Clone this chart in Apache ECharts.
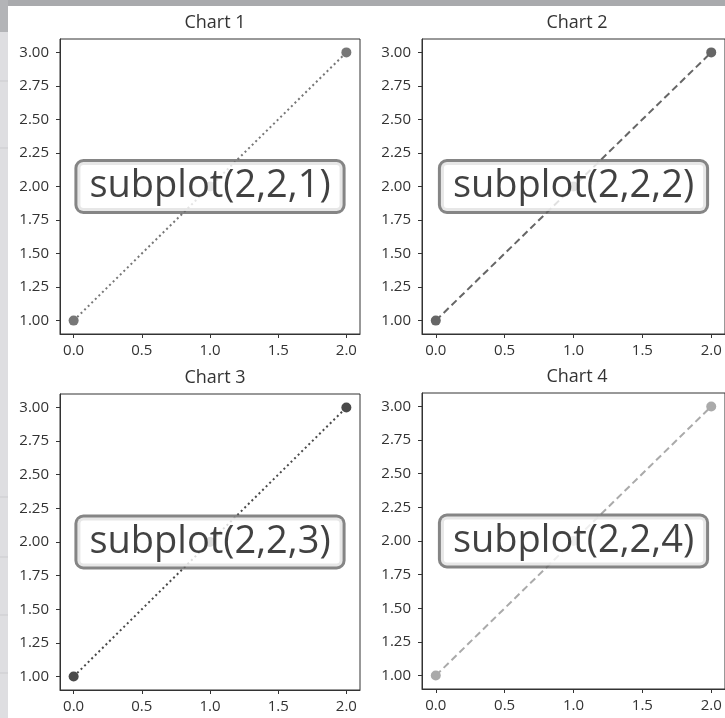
<!DOCTYPE html>
<html>
<head>
<meta charset="utf-8">
<script src="https://cdn.jsdelivr.net/npm/echarts@6/dist/echarts.min.js"></script>
<style>
html,body{margin:0;padding:0;background:#fff;}
#main{width:725px;height:718px;}
</style>
</head>
<body>
<div id="main"></div>
<script>
// ---- data ----
const chartTitles = ['Chart 1', 'Chart 2', 'Chart 3', 'Chart 4'];
const xValues = [0, 1, 2];
const chart1Y = [1, 2, 3];
const chart2Y = [1, 2, 3];
const chart3Y = [1, 2, 3];
const chart4Y = [1, 2, 3];
const xTicks = [0, 0.5, 1, 1.5, 2];
const yTicks = [1, 1.25, 1.5, 1.75, 2, 2.25, 2.5, 2.75, 3];
const labelTexts = ['subplot(2,2,1)', 'subplot(2,2,2)', 'subplot(2,2,3)', 'subplot(2,2,4)'];
const labelX = 1;
const labelY = 2;

// ---- styles ----
const seriesY = [chart1Y, chart2Y, chart3Y, chart4Y];
const lineTypes = [[2, 3], [7, 4], [2, 3], [7, 4]];
const lineColors = ['#777777', '#666666', '#4a4a4a', '#aaaaaa'];
const grids = [
  {left: 60, top: 39, width: 300, height: 295},
  {left: 422, top: 39, width: 303, height: 295},
  {left: 60, top: 394, width: 300, height: 296},
  {left: 422, top: 393, width: 303, height: 296}
];
const FONT = 'Open Sans';

const chart = echarts.init(document.getElementById('main'), null, {renderer: 'canvas'});

const option = {
  animation: false,
  backgroundColor: '#ffffff',
  graphic: [
    {type: 'rect', shape: {x: 0, y: 0, width: 725, height: 6}, style: {fill: '#a9aaad'}, z: -10},
    {type: 'rect', shape: {x: 0, y: 0, width: 8, height: 718}, style: {fill: '#dedee1'}, z: -10},
    {type: 'rect', shape: {x: 0, y: 0, width: 8, height: 32}, style: {fill: '#b3b4b7'}, z: -9},
    {type: 'line', shape: {x1: 0, y1: 81, x2: 8, y2: 81}, style: {stroke: '#cbcbce', lineWidth: 1}, z: -9},
    {type: 'line', shape: {x1: 0, y1: 148, x2: 8, y2: 148}, style: {stroke: '#cbcbce', lineWidth: 1}, z: -9},
    {type: 'line', shape: {x1: 0, y1: 497, x2: 8, y2: 497}, style: {stroke: '#cbcbce', lineWidth: 1}, z: -9},
    {type: 'line', shape: {x1: 0, y1: 557, x2: 8, y2: 557}, style: {stroke: '#cbcbce', lineWidth: 1}, z: -9},
    {type: 'line', shape: {x1: 0, y1: 615, x2: 8, y2: 615}, style: {stroke: '#cbcbce', lineWidth: 1}, z: -9},
    {type: 'line', shape: {x1: 0, y1: 673, x2: 8, y2: 673}, style: {stroke: '#cbcbce', lineWidth: 1}, z: -9}
  ],
  title: chartTitles.map((t, i) => ({
    text: t,
    left: grids[i].left + 150,
    top: grids[i].top - 30,
    textAlign: 'center',
    textStyle: {fontFamily: FONT, fontSize: 18, fontWeight: 'normal', color: '#333'}
  })),
  grid: grids.map(g => Object.assign({show: true, borderColor: '#333', borderWidth: 1, backgroundColor: 'transparent'}, g)),
  xAxis: grids.map((g, i) => ({
    type: 'value', gridIndex: i, min: -0.1, max: 2.1,
    axisLine: {show: true, onZero: false, lineStyle: {color: '#333', width: 1}},
    axisTick: {show: true, length: 4, customValues: xTicks, lineStyle: {color: '#333'}},
    axisLabel: {show: true, customValues: xTicks, margin: 9, fontFamily: FONT, fontSize: 15, color: '#333',
      formatter: v => Number(v).toFixed(1)},
    splitLine: {show: false}
  })),
  yAxis: grids.map((g, i) => ({
    type: 'value', gridIndex: i, min: 0.9, max: 3.1,
    axisLine: {show: true, onZero: false, lineStyle: {color: '#333', width: 1}},
    axisTick: {show: true, length: 4, customValues: yTicks, lineStyle: {color: '#333'}},
    axisLabel: {show: true, customValues: yTicks, margin: 11, fontFamily: FONT, fontSize: 15, color: '#333',
      formatter: v => Number(v).toFixed(2)},
    splitLine: {show: false}
  })),
  series: []
};

seriesY.forEach((ys, i) => {
  option.series.push({
    type: 'line', xAxisIndex: i, yAxisIndex: i,
    data: xValues.map((x, k) => [x, ys[k]]),
    symbol: 'circle', symbolSize: 10, showSymbol: true,
    itemStyle: {color: lineColors[i]},
    lineStyle: {color: lineColors[i], width: 2, type: lineTypes[i]},
    z: 2
  });
  option.series.push({
    type: 'scatter', xAxisIndex: i, yAxisIndex: i,
    data: [[labelX, labelY]],
    symbolSize: 0,
    z: 10,
    label: {
      show: true, position: 'inside', formatter: labelTexts[i],
      fontFamily: FONT, fontSize: 38, color: '#111111',
      backgroundColor: '#ffffff', borderColor: '#666666', borderWidth: 3, borderRadius: 6,
      padding: [5, 12, 6, 12]
    },
    silent: true
  });
});

chart.setOption(option);
</script>
</body>
</html>
